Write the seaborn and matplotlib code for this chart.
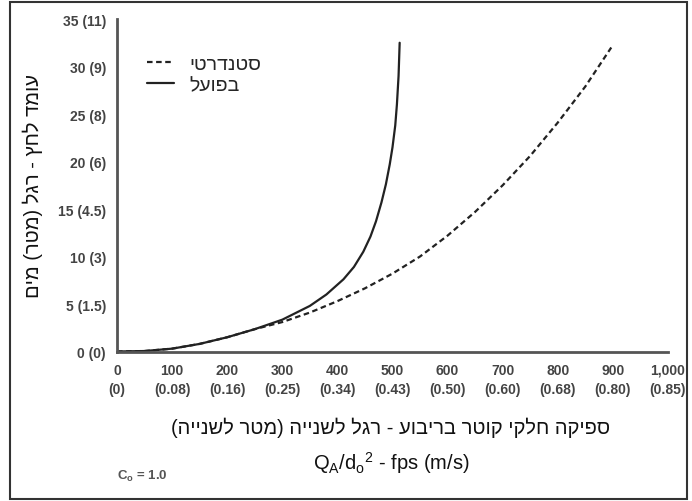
import matplotlib
matplotlib.use("Agg")
import matplotlib.pyplot as plt
from matplotlib.patches import Rectangle
import seaborn as sns
import pandas as pd

# ---- data ----
std_x = [0, 50, 100, 150, 200, 250, 300, 350, 400, 450, 500, 550, 600, 650, 700, 750, 800, 850, 897]
std_y = [0, 0.05, 0.3, 0.8, 1.5, 2.35, 3.1, 4.1, 5.3, 6.65, 8.2, 10.0, 12.2, 14.7, 17.5, 20.6, 24.1, 27.9, 32.0]
act_x = [0, 50, 100, 150, 200, 250, 300, 350, 380, 411, 430, 447, 460, 470, 480, 488, 495, 500, 505, 508, 511, 513]
act_y = [0, 0.05, 0.3, 0.8, 1.5, 2.35, 3.35, 4.8, 6.0, 7.6, 8.9, 10.5, 12.1, 13.7, 15.7, 17.6, 19.7, 21.5, 23.8, 26.0, 29.0, 32.5]

x_ticks = [0, 100, 200, 300, 400, 500, 600, 700, 800, 900, 1000]
x_tick_labels = ["0\n(0)", "100\n(0.08)", "200\n(0.16)", "300\n(0.25)", "400\n(0.34)",
                 "500\n(0.43)", "600\n(0.50)", "700\n(0.60)", "800\n(0.68)",
                 "900\n(0.80)", "1,000\n(0.85)"]
y_ticks = [0, 5, 10, 15, 20, 25, 30, 35]
y_tick_labels = ["0 (0)", "5 (1.5)", "10 (3)", "15 (4.5)", "20 (6)", "25 (8)", "30 (9)", "35 (11)"]

label_std = "סטנדרטי"
label_act = "בפועל"
y_title = "עומד לחץ - רגל (מטר) מים"
x_title = "ספיקה חלקי קוטר בריבוע - רגל לשנייה (מטר לשנייה)"
x_title2 = r"Q$_\mathregular{A}$/d$_\mathregular{o}$$^\mathregular{2}$ - fps (m/s)"
note = r"C$_\mathregular{o}$ = 1.0"


def vis(s):
    """Hebrew logical order -> visual order (matplotlib has no bidi)."""
    mirror = {"(": ")", ")": "("}
    return "".join(mirror.get(c, c) for c in reversed(s))


sns.set_style("white")
plt.rcParams["font.family"] = ["Liberation Sans", "DejaVu Sans"]

df = pd.concat([
    pd.DataFrame({"x": std_x, "y": std_y, "series": vis(label_std)}),
    pd.DataFrame({"x": act_x, "y": act_y, "series": vis(label_act)}),
])

fig = plt.figure(figsize=(6.92, 5.02), dpi=100)
ax = fig.add_axes([117 / 692, 1 - 352.5 / 502, 551 / 692, 332.5 / 502])

sns.lineplot(data=df, x="x", y="y", style="series", sort=False,
             hue="series", palette={vis(label_std): "#222222", vis(label_act): "#222222"},
             dashes={vis(label_std): (2.5, 1.6), vis(label_act): ""},
             linewidth=1.6, ax=ax, legend=True)

ax.set_xlim(0, 1000)
ax.set_ylim(0, 35)
ax.set_xticks(x_ticks)
ax.set_xticklabels(x_tick_labels, fontsize=10, fontweight="bold", color="#444444",
                   linespacing=1.45)
ax.set_yticks(y_ticks)
ax.set_yticklabels(y_tick_labels, fontsize=10, fontweight="bold", color="#444444")
ax.tick_params(axis="both", direction="out", length=5, width=1.5, color="#555555", pad=3)
ax.tick_params(axis="x", pad=3)
for s in ["top", "right"]:
    ax.spines[s].set_visible(False)
for s in ["left", "bottom"]:
    ax.spines[s].set_color("#555555")
    ax.spines[s].set_linewidth(2)
ax.set_xlabel("")
ax.set_ylabel("")

leg = ax.legend(loc="upper left", bbox_to_anchor=(0.054, 0.892), frameon=False,
                fontsize=14, handlelength=1.4, handletextpad=0.8,
                labelspacing=0.2, borderpad=0, borderaxespad=0)

fig.text(33 / 692, 1 - 186 / 502, vis(y_title), rotation=90, ha="center", va="center",
         fontsize=14.5, color="#111111")
fig.text(391 / 692, 1 - 428 / 502, vis(x_title), ha="center", va="center",
         fontsize=14.5, color="#111111")
fig.text(391 / 692, 1 - 463 / 502, x_title2, ha="center", va="center",
         fontsize=14.5, color="#111111")
fig.text(117 / 692, 1 - 476 / 502, note, ha="left", va="center",
         fontsize=9.5, fontweight="bold", color="#555555")

fig.patches.append(Rectangle((10 / 692, 2 / 502), 677 / 692, 497 / 502,
                             transform=fig.transFigure, fill=False,
                             edgecolor="#333333", linewidth=1.5))

fig.savefig("out.png", dpi=100)
